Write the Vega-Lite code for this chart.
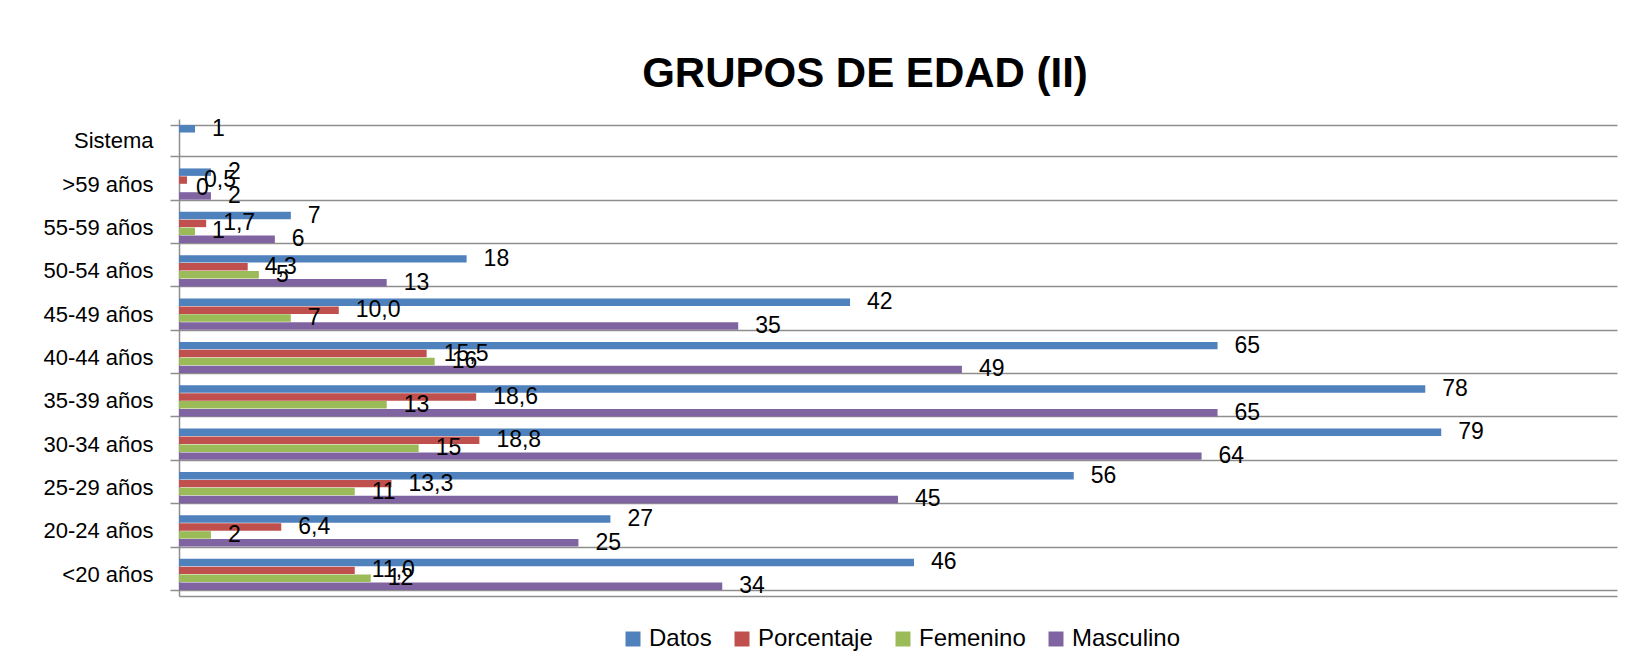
{
  "$schema": "https://vega.github.io/schema/vega-lite/v6.json",
  "autosize": {"type": "none"},
  "width": 1438,
  "height": 477,
  "padding": {"left": 179, "top": 119, "right": 18, "bottom": 76},
  "background": "white",
  "title": {
    "text": "GRUPOS DE EDAD (II)",
    "font": "Liberation Sans",
    "fontSize": 42,
    "fontWeight": "bold",
    "color": "black",
    "anchor": "middle",
    "dx": -33,
    "offset": 12
  },
  "data": {
    "values": [
      {"grupo": "Sistema", "serie": "Datos", "valor": 1},
      {"grupo": ">59 años", "serie": "Datos", "valor": 2},
      {"grupo": ">59 años", "serie": "Porcentaje", "valor": 0.5},
      {"grupo": ">59 años", "serie": "Femenino", "valor": 0},
      {"grupo": ">59 años", "serie": "Masculino", "valor": 2},
      {"grupo": "55-59 años", "serie": "Datos", "valor": 7},
      {"grupo": "55-59 años", "serie": "Porcentaje", "valor": 1.7},
      {"grupo": "55-59 años", "serie": "Femenino", "valor": 1},
      {"grupo": "55-59 años", "serie": "Masculino", "valor": 6},
      {"grupo": "50-54 años", "serie": "Datos", "valor": 18},
      {"grupo": "50-54 años", "serie": "Porcentaje", "valor": 4.3},
      {"grupo": "50-54 años", "serie": "Femenino", "valor": 5},
      {"grupo": "50-54 años", "serie": "Masculino", "valor": 13},
      {"grupo": "45-49 años", "serie": "Datos", "valor": 42},
      {"grupo": "45-49 años", "serie": "Porcentaje", "valor": 10.0},
      {"grupo": "45-49 años", "serie": "Femenino", "valor": 7},
      {"grupo": "45-49 años", "serie": "Masculino", "valor": 35},
      {"grupo": "40-44 años", "serie": "Datos", "valor": 65},
      {"grupo": "40-44 años", "serie": "Porcentaje", "valor": 15.5},
      {"grupo": "40-44 años", "serie": "Femenino", "valor": 16},
      {"grupo": "40-44 años", "serie": "Masculino", "valor": 49},
      {"grupo": "35-39 años", "serie": "Datos", "valor": 78},
      {"grupo": "35-39 años", "serie": "Porcentaje", "valor": 18.6},
      {"grupo": "35-39 años", "serie": "Femenino", "valor": 13},
      {"grupo": "35-39 años", "serie": "Masculino", "valor": 65},
      {"grupo": "30-34 años", "serie": "Datos", "valor": 79},
      {"grupo": "30-34 años", "serie": "Porcentaje", "valor": 18.8},
      {"grupo": "30-34 años", "serie": "Femenino", "valor": 15},
      {"grupo": "30-34 años", "serie": "Masculino", "valor": 64},
      {"grupo": "25-29 años", "serie": "Datos", "valor": 56},
      {"grupo": "25-29 años", "serie": "Porcentaje", "valor": 13.3},
      {"grupo": "25-29 años", "serie": "Femenino", "valor": 11},
      {"grupo": "25-29 años", "serie": "Masculino", "valor": 45},
      {"grupo": "20-24 años", "serie": "Datos", "valor": 27},
      {"grupo": "20-24 años", "serie": "Porcentaje", "valor": 6.4},
      {"grupo": "20-24 años", "serie": "Femenino", "valor": 2},
      {"grupo": "20-24 años", "serie": "Masculino", "valor": 25},
      {"grupo": "<20 años", "serie": "Datos", "valor": 46},
      {"grupo": "<20 años", "serie": "Porcentaje", "valor": 11.0},
      {"grupo": "<20 años", "serie": "Femenino", "valor": 12},
      {"grupo": "<20 años", "serie": "Masculino", "valor": 34}
    ]
  },
  "encoding": {
    "y": {
      "field": "grupo",
      "type": "nominal",
      "sort": ["Sistema", ">59 años", "55-59 años", "50-54 años", "45-49 años", "40-44 años", "35-39 años", "30-34 años", "25-29 años", "20-24 años", "<20 años"],
      "scale": {"paddingInner": 0.28, "paddingOuter": 0.14},
      "axis": {
        "title": null,
        "tickBand": "extent",
        "grid": true,
        "gridColor": "#8e8e8e",
        "gridWidth": 1.5,
        "ticks": true,
        "tickSize": 9,
        "tickColor": "#8e8e8e",
        "tickWidth": 1.5,
        "domainColor": "#8e8e8e",
        "domainWidth": 1.5,
        "labelFont": "Liberation Sans",
        "labelFontSize": 22,
        "labelColor": "black",
        "labelPadding": 17
      }
    },
    "yOffset": {
      "field": "serie",
      "type": "nominal",
      "sort": ["Datos", "Porcentaje", "Femenino", "Masculino"],
      "scale": {"paddingInner": 0.06}
    },
    "x": {
      "field": "valor",
      "type": "quantitative",
      "scale": {"domain": [0, 90]},
      "axis": {
        "title": null,
        "labels": false,
        "ticks": false,
        "grid": false,
        "domain": true,
        "domainColor": "#8e8e8e",
        "domainWidth": 1.5
      }
    }
  },
  "layer": [
    {
      "mark": {"type": "bar"},
      "encoding": {
        "color": {
          "field": "serie",
          "type": "nominal",
          "sort": ["Datos", "Porcentaje", "Femenino", "Masculino"],
          "scale": {
            "domain": ["Datos", "Porcentaje", "Femenino", "Masculino"],
            "range": ["#4F81BD", "#C0504D", "#9BBB59", "#8064A2"]
          },
          "legend": {
            "title": null,
            "orient": "none",
            "direction": "horizontal",
            "legendX": 442,
            "legendY": 508,
            "symbolType": "square",
            "symbolSize": 225,
            "symbolStrokeWidth": 0,
            "labelFont": "Liberation Sans",
            "labelFontSize": 24,
            "labelColor": "black",
            "labelOffset": 4,
            "columnPadding": 18
          }
        }
      }
    },
    {
      "transform": [{"filter": "datum.serie !== 'Porcentaje'"}],
      "mark": {"type": "text", "align": "left", "baseline": "middle", "dx": 17, "font": "Liberation Sans", "fontSize": 23, "color": "black"},
      "encoding": {"text": {"field": "valor", "type": "quantitative", "format": "d"}}
    },
    {
      "transform": [{"filter": "datum.serie === 'Porcentaje'"}],
      "mark": {"type": "text", "align": "left", "baseline": "middle", "dx": 17, "font": "Liberation Sans", "fontSize": 23, "color": "black"},
      "encoding": {"text": {"field": "valor", "type": "quantitative", "format": ".1f"}}
    }
  ],
  "config": {
    "view": {"stroke": null},
    "locale": {"number": {"decimal": ",", "thousands": ".", "grouping": [3], "currency": ["", " €"]}}
  }
}
